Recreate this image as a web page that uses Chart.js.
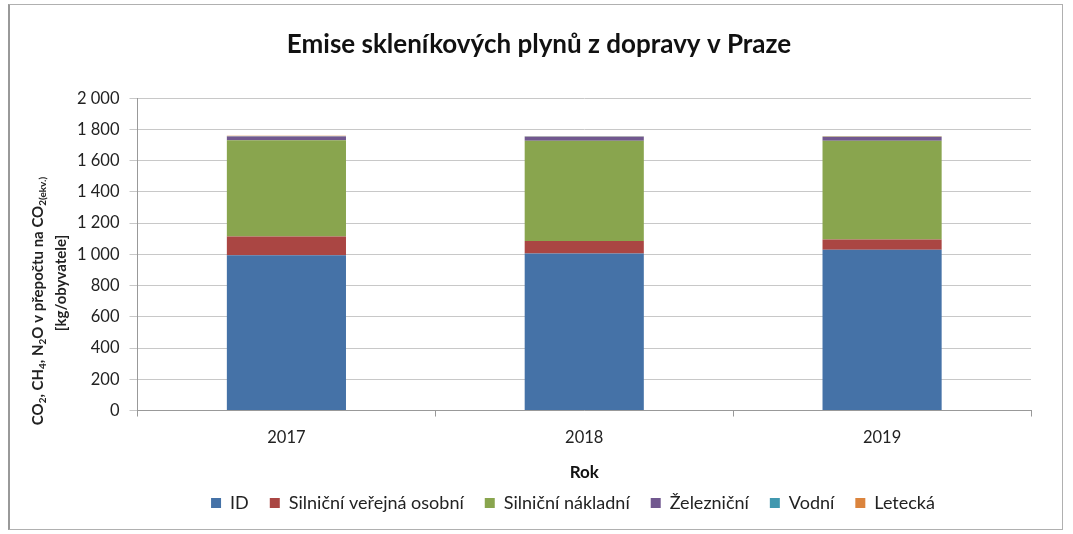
<!DOCTYPE html>
<html>
<head>
<meta charset="utf-8">
<script src="https://cdn.jsdelivr.net/npm/chart.js@4/dist/chart.umd.min.js"></script>
<style>
  body { margin: 0; background: #fff; }
  #frame { position: absolute; left: 8px; top: 4px; width: 1052px; height: 524px; border: 1px solid #b0b0b0; border-left: 2px solid #999; }
  #wrap { position: absolute; left: 0; top: 0; width: 1073px; height: 534px; }
</style>
</head>
<body>
<div id="frame"></div>
<div id="wrap"><canvas id="chart" width="1073" height="534"></canvas></div>
<script>
const years = ['2017', '2018', '2019'];
const seriesNames = ['ID', 'Silniční veřejná osobní', 'Silniční nákladní', 'Železniční', 'Vodní', 'Letecká'];
const idValues = [995, 1005, 1030];
const busValues = [120, 80, 65];
const freightValues = [615, 643, 632];
const railValues = [25, 25, 25];
const waterValues = [1, 1, 1];
const airValues = [3, 3, 4];
const yTicks = [0, 200, 400, 600, 800, 1000, 1200, 1400, 1600, 1800, 2000];
const colors = ['#4572A7', '#AA4643', '#89A54E', '#71588F', '#4198AF', '#DB843D'];

const allValues = [idValues, busValues, freightValues, railValues, waterValues, airValues];
const FONT = 'Lato, "Open Sans", sans-serif';

// popisek osy Y s dolnimi indexy
const yTitlePlugin = {
    id: 'yTitle',
    afterLayout(chart) {
        // posun titulku a legendy jako v originale
        chart.titleBlock.left -= 10;
        chart.titleBlock.right -= 10;
        chart.legend.left += 24;
        chart.legend.right += 24;
    },
    afterDraw(chart) {
        const ctx = chart.ctx;
        const parts = [
            ['CO', 0], ['2', 1], [', CH', 0], ['4', 1], [', N', 0], ['2', 1],
            ['O v přepočtu na CO', 0], ['2(ekv.)', 1]
        ];
        ctx.save();
        ctx.fillStyle = '#222';
        ctx.textBaseline = 'alphabetic';
        ctx.translate(38, 301);
        ctx.rotate(-Math.PI / 2);
        let total = 0;
        parts.forEach(p => {
            ctx.font = p[1] ? 'bold 10px ' + FONT : 'bold 15px ' + FONT;
            total += ctx.measureText(p[0]).width;
        });
        let x = -total / 2;
        parts.forEach(p => {
            ctx.font = p[1] ? 'bold 10px ' + FONT : 'bold 15px ' + FONT;
            ctx.fillText(p[0], x, p[1] ? 8 : 5);
            x += ctx.measureText(p[0]).width;
        });
        ctx.restore();
        ctx.save();
        ctx.fillStyle = '#222';
        ctx.font = 'bold 15px ' + FONT;
        ctx.textAlign = 'center';
        ctx.translate(56, 283);
        ctx.rotate(-Math.PI / 2);
        ctx.fillText('[kg/obyvatele]', 0, 5);
        ctx.restore();
    }
};

new Chart(document.getElementById('chart'), {
    type: 'bar',
    data: {
        labels: years,
        datasets: seriesNames.map((name, i) => ({
            label: name,
            data: allValues[i],
            backgroundColor: colors[i],
            borderWidth: 0,
            categoryPercentage: 1,
            barPercentage: 0.4
        }))
    },
    options: {
        responsive: false,
        animation: false,
        devicePixelRatio: 1,
        layout: { padding: { left: 67, right: 42, top: 6, bottom: 12 } },
        plugins: {
            title: {
                display: true,
                text: 'Emise skleníkových plynů z dopravy v Praze',
                color: '#111',
                font: { family: FONT, size: 26, weight: 'bold' },
                padding: { top: 23, bottom: 38 }
            },
            legend: {
                position: 'bottom',
                labels: {
                    color: '#222',
                    font: { family: FONT, size: 18 },
                    boxWidth: 10,
                    boxHeight: 10,
                    padding: 21
                }
            },
            tooltip: { enabled: false }
        },
        scales: {
            x: {
                stacked: true,
                grid: { display: true, drawOnChartArea: false, offset: true, color: '#999', tickLength: 6 },
                border: { color: '#999' },
                ticks: { color: '#222', font: { family: FONT, size: 16.5 }, padding: 11 },
                title: { display: true, text: 'Rok', color: '#111', font: { family: FONT, size: 17, weight: 'bold', lineHeight: 0.01 }, padding: { top: 14.5, bottom: 0 } }
            },
            y: {
                stacked: true,
                min: 0,
                max: 2000,
                afterBuildTicks(axis) { axis.ticks = yTicks.map(v => ({ value: v })); },
                grid: { color: '#c8c8c8', tickLength: 8 },
                border: { color: '#999' },
                ticks: {
                    color: '#222',
                    font: { family: FONT, size: 16.5 },
                    padding: 10,
                    callback: v => v >= 1000 ? Math.floor(v / 1000) + ' ' + String(v % 1000).padStart(3, '0') : String(v)
                }
            }
        }
    },
    plugins: [yTitlePlugin]
});
</script>
</body>
</html>
